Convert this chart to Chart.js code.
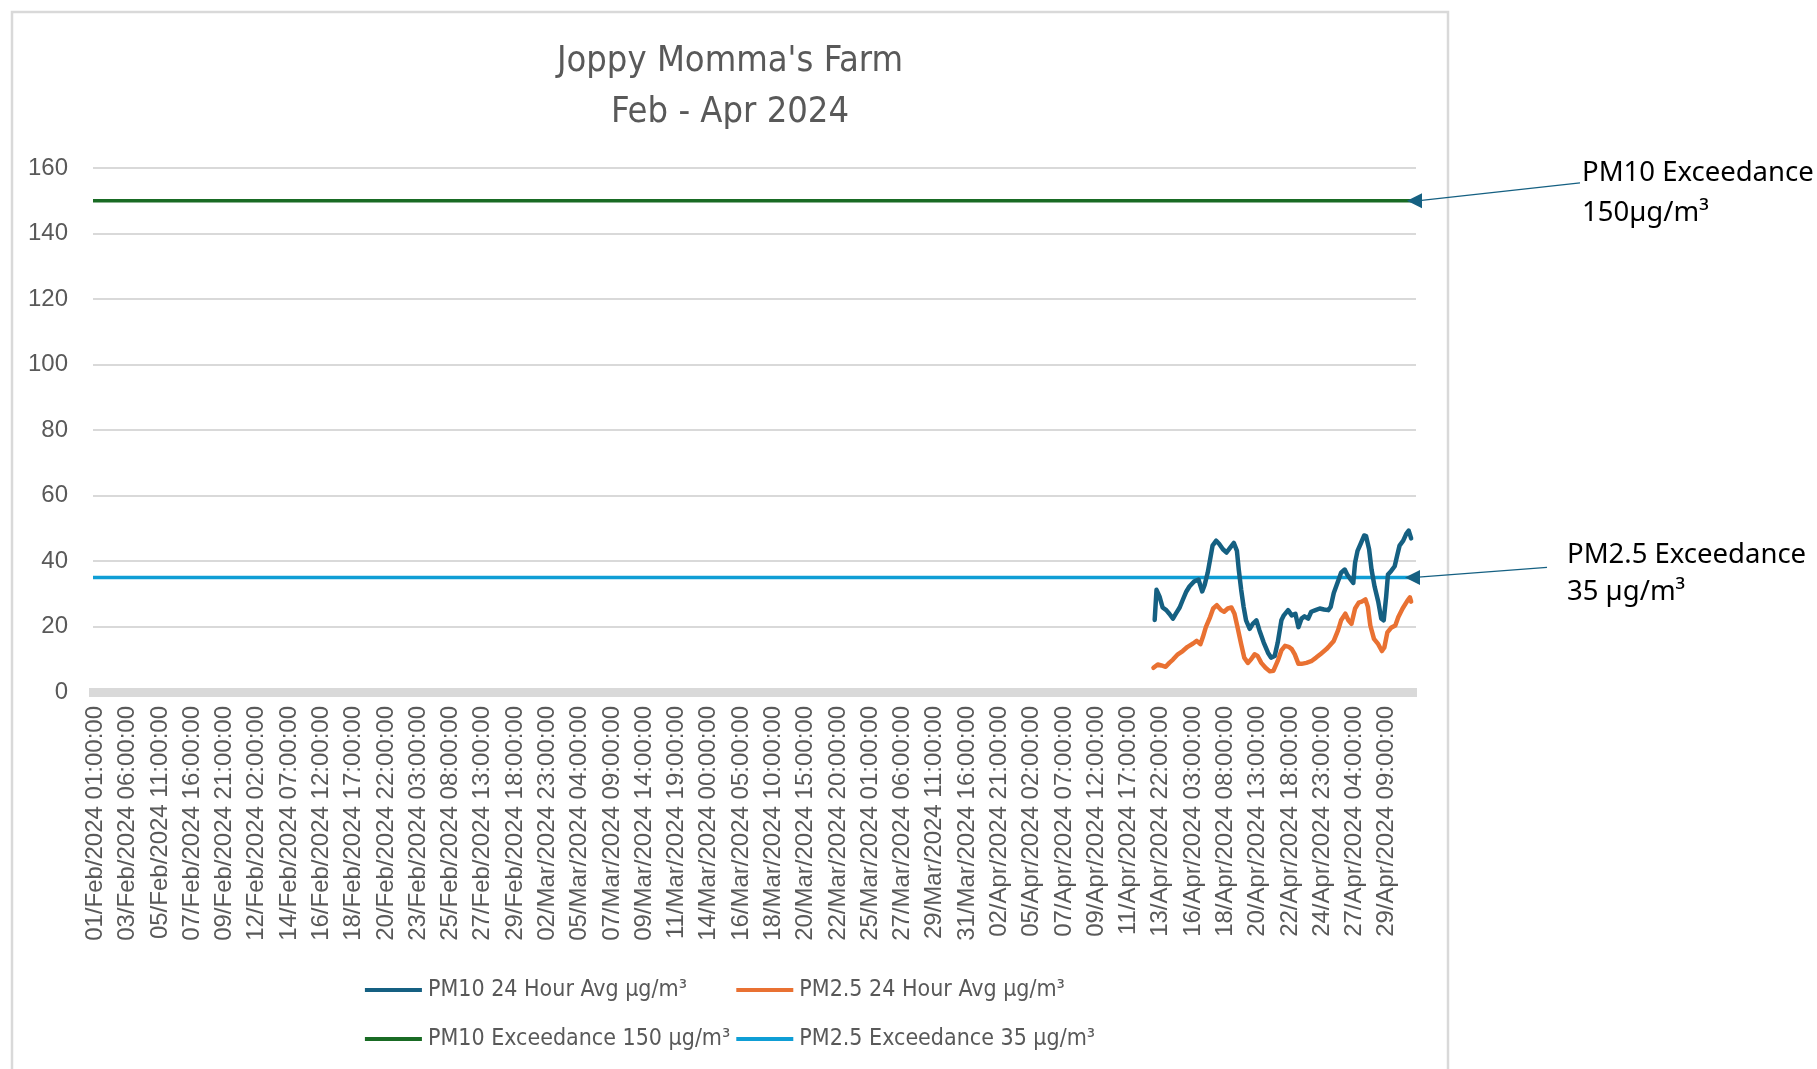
<!DOCTYPE html>
<html>
<head>
<meta charset="utf-8">
<title>Joppy Momma's Farm</title>
<script src="https://cdn.jsdelivr.net/npm/chart.js@4.4.1/dist/chart.umd.min.js"></script>
<style>
    html, body { margin: 0; padding: 0; background: #fff; }
</style>
</head>
<body>
<canvas id="graficoPM" width="1817" height="1069"></canvas>
<script>
// axis labels, one every 53 hourly readings
const tickLabels = [
    '01/Feb/2024 01:00:00', '03/Feb/2024 06:00:00', '05/Feb/2024 11:00:00', '07/Feb/2024 16:00:00',
    '09/Feb/2024 21:00:00', '12/Feb/2024 02:00:00', '14/Feb/2024 07:00:00', '16/Feb/2024 12:00:00',
    '18/Feb/2024 17:00:00', '20/Feb/2024 22:00:00', '23/Feb/2024 03:00:00', '25/Feb/2024 08:00:00',
    '27/Feb/2024 13:00:00', '29/Feb/2024 18:00:00', '02/Mar/2024 23:00:00', '05/Mar/2024 04:00:00',
    '07/Mar/2024 09:00:00', '09/Mar/2024 14:00:00', '11/Mar/2024 19:00:00', '14/Mar/2024 00:00:00',
    '16/Mar/2024 05:00:00', '18/Mar/2024 10:00:00', '20/Mar/2024 15:00:00', '22/Mar/2024 20:00:00',
    '25/Mar/2024 01:00:00', '27/Mar/2024 06:00:00', '29/Mar/2024 11:00:00', '31/Mar/2024 16:00:00',
    '02/Apr/2024 21:00:00', '05/Apr/2024 02:00:00', '07/Apr/2024 07:00:00', '09/Apr/2024 12:00:00',
    '11/Apr/2024 17:00:00', '13/Apr/2024 22:00:00', '16/Apr/2024 03:00:00', '18/Apr/2024 08:00:00',
    '20/Apr/2024 13:00:00', '22/Apr/2024 18:00:00', '24/Apr/2024 23:00:00', '27/Apr/2024 04:00:00',
    '29/Apr/2024 09:00:00'
];
const hoursPerTick = 53;
const firstHour = -4;     // hours from 01/Feb/2024 01:00
const lastHour = 2168;

// readings, hours counted from 01/Feb/2024 01:00
const pm10Hours = [1739, 1742, 1747, 1752, 1758, 1763, 1769, 1774, 1780, 1785, 1791, 1796, 1804, 1811, 1817, 1821,
    1826, 1830, 1834, 1840, 1845, 1851, 1857, 1863, 1869, 1874, 1877, 1881, 1885, 1889, 1895, 1900, 1906, 1911,
    1918, 1925, 1930, 1936, 1941, 1947, 1951, 1958, 1964, 1970, 1975, 1980, 1985, 1991, 1996, 2003, 2010, 2017,
    2024, 2028, 2033, 2040, 2045, 2051, 2055, 2061, 2065, 2068, 2072, 2077, 2083, 2086, 2091, 2095, 2100, 2106,
    2111, 2115, 2119, 2122, 2127, 2133, 2137, 2141, 2147, 2152, 2156, 2160];
const pm10Values = [22, 31.2, 29.1, 25.8, 25, 23.9, 22.4, 24, 25.8, 28.1, 30.7, 32.2, 33.8, 34.3, 30.7, 32.7,
    36.4, 40.5, 44.7, 46.2, 45.2, 43.6, 42.6, 44.1, 45.5, 43.1, 37.4, 31.2, 26, 21.9, 19.3, 20.8, 21.9, 18.8,
    15.1, 12, 10.5, 11, 15.1, 21.9, 23.4, 25, 23.4, 23.9, 19.8, 22.4, 23.1, 22.4, 24.5, 25, 25.5, 25.2,
    25, 26, 30.2, 33.8, 36.4, 37.4, 35.9, 34.3, 33.3, 39.5, 43.1, 45.2, 47.8, 47.6, 43.6, 37.4, 32.2, 27.6,
    22.4, 21.9, 29.1, 35.9, 36.9, 38.4, 41.6, 44.7, 46.2, 48.3, 49.3, 46.9];

const pm25Hours = [1737, 1744, 1750, 1757, 1763, 1769, 1777, 1785, 1793, 1802, 1808, 1814, 1818, 1823, 1830, 1835,
    1841, 1848, 1853, 1859, 1865, 1870, 1875, 1881, 1886, 1892, 1897, 1903, 1908, 1914, 1921, 1928, 1934, 1941,
    1947, 1953, 1959, 1964, 1969, 1975, 1980, 1988, 1996, 2004, 2012, 2021, 2026, 2033, 2040, 2045, 2052, 2057,
    2062, 2068, 2074, 2079, 2085, 2089, 2093, 2099, 2106, 2112, 2116, 2121, 2127, 2134, 2139, 2146, 2154, 2158, 2160];
const pm25Values = [7.4, 8.4, 8.1, 7.7, 8.9, 9.9, 11.5, 12.5, 13.8, 14.8, 15.6, 14.6, 16.7, 19.8, 22.9, 25.5,
    26.5, 25, 24.5, 25.5, 25.8, 23.9, 19.8, 14.6, 10.5, 8.9, 9.9, 11.5, 11, 8.9, 7.4, 6.3, 6.5, 9.5,
    12.7, 14.1, 13.8, 13.1, 11.5, 8.6, 8.6, 8.9, 9.4, 10.5, 11.7, 13.1, 14.1, 15.6, 18.8, 21.9, 23.9, 21.9,
    20.8, 25.5, 27.3, 27.6, 28.3, 26, 20.3, 16.2, 14.6, 12.5, 13.6, 18.2, 19.6, 20.3, 22.9, 25.5, 27.9, 28.9, 27.6];

const pm10Limit = 150;
const pm25Limit = 35;

const seriesNames = [
    'PM10 24 Hour Avg µg/m³',
    'PM2.5 24 Hour Avg µg/m³',
    'PM10 Exceedance 150 µg/m³',
    'PM2.5 Exceedance 35 µg/m³'
];

const narrowFont = '"Liberation Sans Narrow", "Arial Narrow", "DejaVu Sans Condensed", "Liberation Sans", sans-serif';
const axisFont = '"Liberation Sans", Arial, sans-serif';
const noteFont = '"Noto Sans", "Open Sans", sans-serif';

const toPoints = (xs, ys) => xs.map((x, i) => ({ x: x, y: ys[i] }));
const flatLine = v => [{ x: firstHour, y: v }, { x: lastHour, y: v }];

// frame, legend and the two callouts on the right
const extras = {
    id: 'extras',
    beforeDraw(chart) {
        const ctx = chart.ctx;
        ctx.save();
        ctx.fillStyle = '#fff';
        ctx.fillRect(0, 0, chart.width, chart.height);
        ctx.strokeStyle = '#D9D9D9';
        ctx.lineWidth = 2.5;
        ctx.strokeRect(12, 12, 1436, 1100);
        ctx.restore();
    },
    afterDraw(chart) {
        const ctx = chart.ctx;
        const area = chart.chartArea;
        const y = chart.scales.y;
        ctx.save();

        // legend, two rows, columns lined up
        ctx.font = '23px ' + narrowFont;
        ctx.textBaseline = 'middle';
        const sample = 57, gap = 6, colGap = 6;
        const ds = chart.data.datasets;
        const w = ds.map(d => sample + gap + ctx.measureText(d.label).width);
        const colW = [Math.max(w[0], w[2]), Math.max(w[1], w[3])];
        const startX = 730 - (colW[0] + colGap + colW[1]) / 2;
        const rowY = [990, 1039];
        ds.forEach((d, i) => {
            const row = Math.floor(i / 2), col = i % 2;
            const x0 = startX + (col ? colW[0] + colGap : 0);
            ctx.strokeStyle = d.borderColor;
            ctx.lineWidth = 4;
            ctx.beginPath();
            ctx.moveTo(x0, rowY[row]);
            ctx.lineTo(x0 + sample, rowY[row]);
            ctx.stroke();
            ctx.fillStyle = '#595959';
            ctx.fillText(d.label, x0 + sample + gap, rowY[row]);
        });

        // callouts
        const notes = [
            { lines: ['PM10 Exceedance', '150µg/m³'], limit: pm10Limit, dx: 166, dy: [-28, 12], tail: [164, -18], tip: -9 },
            { lines: ['PM2.5 Exceedance', '35 µg/m³'], limit: pm25Limit, dx: 151, dy: [-22, 15], tail: [131, -10], tip: -11 }
        ];
        notes.forEach(n => {
            const ly = y.getPixelForValue(n.limit);
            ctx.fillStyle = '#000';
            ctx.font = '27.5px ' + noteFont;
            ctx.fillText(n.lines[0], area.right + n.dx, ly + n.dy[0]);
            ctx.fillText(n.lines[1], area.right + n.dx, ly + n.dy[1]);

            const tx = area.right + n.tip;
            ctx.strokeStyle = '#156082';
            ctx.fillStyle = '#156082';
            ctx.lineWidth = 1.3;
            ctx.beginPath();
            ctx.moveTo(area.right + n.tail[0], ly + n.tail[1]);
            ctx.lineTo(tx + 10, ly);
            ctx.stroke();
            ctx.beginPath();
            ctx.moveTo(tx, ly);
            ctx.lineTo(tx + 15, ly - 7.5);
            ctx.lineTo(tx + 15, ly + 7.5);
            ctx.closePath();
            ctx.fill();
        });
        ctx.restore();
    }
};

const grafico = new Chart(document.getElementById('graficoPM'), {
    type: 'line',
    data: {
        datasets: [
            { label: seriesNames[0], data: toPoints(pm10Hours, pm10Values), borderColor: '#156082', borderWidth: 4.5 },
            { label: seriesNames[1], data: toPoints(pm25Hours, pm25Values), borderColor: '#E97132', borderWidth: 4.5 },
            { label: seriesNames[2], data: flatLine(pm10Limit), borderColor: '#196B24', borderWidth: 3.5 },
            { label: seriesNames[3], data: flatLine(pm25Limit), borderColor: '#0F9ED5', borderWidth: 3.5 }
        ]
    },
    options: {
        responsive: false,
        animation: false,
        elements: { point: { radius: 0, hoverRadius: 0 }, line: { tension: 0, borderCapStyle: 'round', borderJoinStyle: 'round' } },
        layout: { padding: { left: 12, top: 12, right: 369, bottom: 100 } },
        plugins: {
            legend: { display: false },
            tooltip: { enabled: false },
            title: {
                display: true,
                text: ["Joppy Momma's Farm", 'Feb - Apr 2024'],
                color: '#595959',
                font: { family: narrowFont, size: 36, weight: 'normal', lineHeight: 1.417 },
                padding: { top: 24.5, bottom: 29.5 }
            }
        },
        scales: {
            x: {
                type: 'linear',
                min: firstHour,
                max: lastHour,
                afterBuildTicks: s => { s.ticks = tickLabels.map((_, i) => ({ value: i * hoursPerTick })); },
                afterFit: s => { s.height = 277; },
                ticks: {
                    autoSkip: false,
                    minRotation: 90,
                    maxRotation: 90,
                    padding: 14,
                    color: '#595959',
                    font: { family: axisFont, size: 24 },
                    callback: (v, i) => tickLabels[i]
                },
                grid: { display: false, drawTicks: false },
                border: { display: true, color: '#D9D9D9', width: 9 }
            },
            y: {
                min: 0,
                max: 160,
                afterFit: s => { s.width = 81; },
                ticks: { stepSize: 20, padding: 25, color: '#595959', font: { family: axisFont, size: 24 } },
                grid: { color: '#D9D9D9', lineWidth: 2, drawTicks: false },
                border: { display: false }
            },
            yRight: {
                position: 'right',
                display: true,
                afterFit: s => { s.width = 32; },
                ticks: { display: false },
                grid: { display: false, drawTicks: false },
                border: { display: false }
            }
        }
    },
    plugins: [extras]
});
</script>
</body>
</html>
